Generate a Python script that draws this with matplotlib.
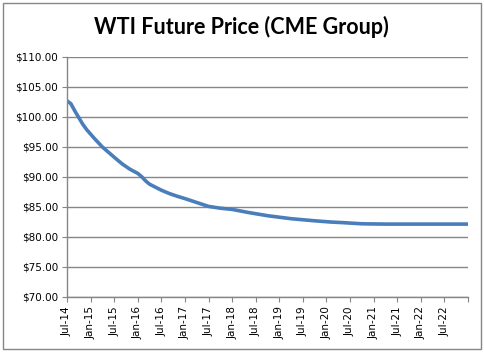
import matplotlib
matplotlib.use("Agg")
import matplotlib.pyplot as plt
from matplotlib.patches import Rectangle

plt.rcParams["font.family"] = "DejaVu Sans"

# months since Jul-2014, price
months = [0, 1, 2, 3, 4, 5, 7, 9, 12, 14, 16, 18, 19, 20, 21, 24, 26, 28, 30,
          33, 36, 39, 42, 46, 51, 57, 63, 67, 70, 75, 81, 90, 102]
prices = [102.7, 102.2, 101.0, 99.9, 98.8, 97.9, 96.4, 95.0, 93.3, 92.2,
          91.3, 90.6, 90.05, 89.35, 88.8, 87.8, 87.25, 86.8, 86.4, 85.75, 85.1,
          84.8, 84.6, 84.1, 83.55, 83.05, 82.7, 82.5, 82.4, 82.2, 82.15, 82.15,
          82.15]

tick_labels = ["Jul-14", "Jan-15", "Jul-15", "Jan-16", "Jul-16", "Jan-17",
               "Jul-17", "Jan-18", "Jul-18", "Jan-19", "Jul-19", "Jan-20",
               "Jul-20", "Jan-21", "Jul-21", "Jan-22", "Jul-22", ""]
y_ticks = [70, 75, 80, 85, 90, 95, 100, 105, 110]

grey = "#868686"

fig = plt.figure(figsize=(4.85, 3.52), dpi=100)
ax = fig.add_axes([67/485, 1-297/352, 401/485, 240/352])

ax.plot(months, prices, color="#4a7ebb", lw=2.6, solid_capstyle="round")

ax.set_xlim(0, 102)
ax.set_ylim(70, 110)
ax.set_yticks(y_ticks)
ax.set_yticklabels(["${:.2f}".format(v) for v in y_ticks])
ax.set_xticks(range(0, 103, 6))
ax.set_xticklabels(tick_labels, rotation=90)

ax.grid(axis="y", color=grey, lw=1)
ax.set_axisbelow(True)
for s in ["top", "right"]:
    ax.spines[s].set_visible(False)
for s in ["left", "bottom"]:
    ax.spines[s].set_color(grey)
    ax.spines[s].set_linewidth(1)
ax.tick_params(direction="out", length=3.5, color=grey, labelsize=7.5, pad=3)

fig.text(0.497, 1-27/352, "WTI Future Price (CME Group)", ha="center", va="center",
         fontsize=15.5, fontweight="bold", family="Lato")

fig.patches.append(Rectangle((3/485, 1-349/352), 478/485, 346/352, transform=fig.transFigure,
                             fill=False, edgecolor=grey, lw=1))

fig.savefig("out.png", dpi=100)
